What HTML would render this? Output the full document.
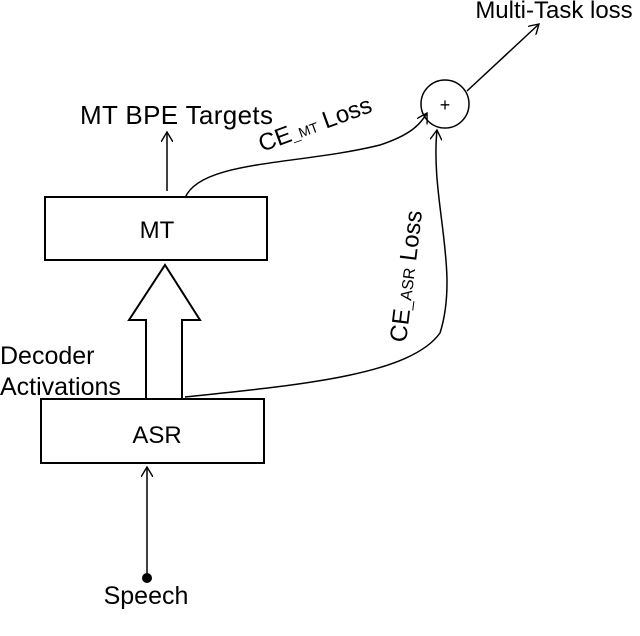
<!DOCTYPE html>
<html><head><style>
body{margin:0;background:#fff;}
svg{display:block;font-family:"Liberation Sans",sans-serif;}
</style></head><body>
<svg width="640" height="636" viewBox="0 0 640 636">
<defs>
<marker id="a" markerWidth="12" markerHeight="12" refX="10" refY="6" orient="auto" markerUnits="userSpaceOnUse">
<path d="M0,0 L10,6 L0,12" fill="none" stroke="#000" stroke-width="1.4"/>
</marker>
</defs>
<g stroke="#000" stroke-width="2" fill="none">
<rect x="45" y="197" width="222" height="63"/>
<rect x="41" y="399" width="223" height="64"/>
<path d="M146,398 L146,320 L129,320 L165,265 L200,320 L182,320 L182,398" />
</g>
<g stroke="#000" stroke-width="1.5" fill="none">
<line x1="167" y1="191" x2="167" y2="132" marker-end="url(#a)"/>
<line x1="147" y1="575" x2="147" y2="467" marker-end="url(#a)"/>
<circle cx="445" cy="104" r="24"/>
<line x1="467" y1="91" x2="539" y2="24" marker-end="url(#a)"/>
<path d="M185,198 C200,160 300,165 380,145 C410,135 420,125 427,113" marker-end="url(#a)"/>
<path d="M185,397 C300,385 410,375 440,333 C460,270 430,200 437,130" marker-end="url(#a)"/>
</g>
<circle cx="147" cy="578" r="5" fill="#000"/>
<g fill="#000" font-size="26">
<text x="80" y="124" textLength="193">MT BPE Targets</text>
<text x="157" y="238" text-anchor="middle" font-size="24">MT</text>
<text x="157" y="443" text-anchor="middle" font-size="24">ASR</text>
<text x="0" y="364" font-size="25">Decoder</text>
<text x="0" y="395" font-size="25">Activations</text>
<text x="146" y="604" text-anchor="middle" font-size="25">Speech</text>
<text x="554" y="18" text-anchor="middle" font-size="24">Multi-Task loss</text>
<text x="445" y="111" text-anchor="middle" font-size="18">+</text>
<g transform="translate(262,152) rotate(-20)"><text x="0" y="0" font-size="24">CE<tspan font-size="14">_MT</tspan> Loss</text></g>
<g transform="translate(406,343) rotate(-83)"><text x="0" y="0" font-size="24">CE<tspan font-size="16">_ASR</tspan> Loss</text></g>
</g>
</svg>
</body></html>
